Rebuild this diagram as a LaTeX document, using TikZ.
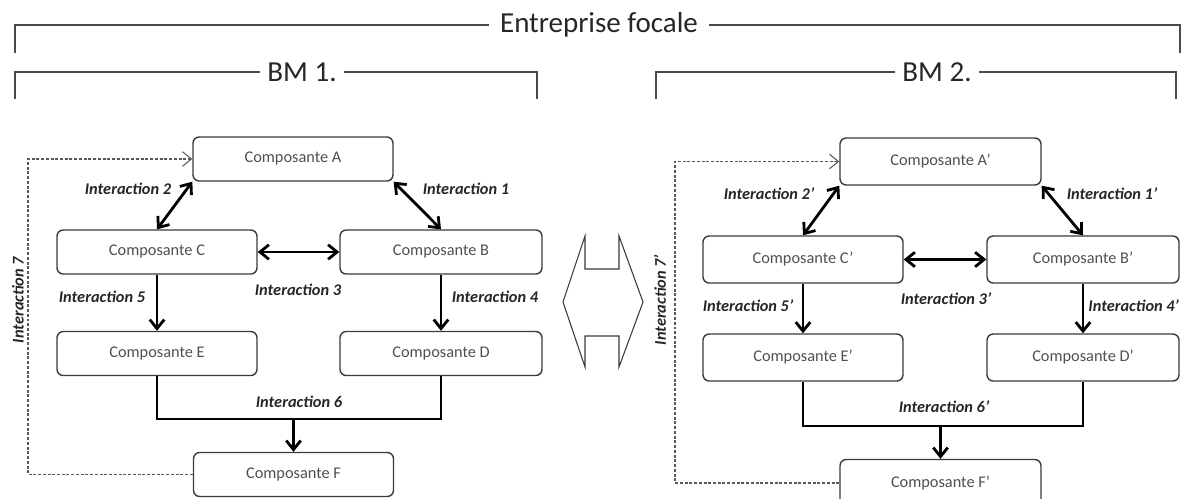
\documentclass[tikz,border=0pt]{standalone}
\usepackage{fontspec}
\setmainfont{Carlito}
\usetikzlibrary{arrows.meta}
\definecolor{bord}{HTML}{3A3A3A}
\definecolor{texte}{HTML}{505050}
\definecolor{trait}{HTML}{4A4A4A}
\newcommand{\pointe}{Straight Barb[length=1.8mm,width=2.9mm]}

\tikzset{
  comp/.style={draw=bord,line width=0.8pt,rounded corners=3.5pt,
               minimum width=4cm,minimum height=0.88cm,inner sep=0pt,
               text=texte,font=\fontsize{9.3}{11}\selectfont},
  compb/.style={comp,minimum height=0.94cm},
  inter/.style={font=\fontsize{9.3}{11}\selectfont\bfseries\itshape,text=black!85},
  titre/.style={font=\fontsize{16.5}{19}\selectfont,text=black!85,inner xsep=0.22cm},
  lien/.style={line width=1.6pt},
  bi/.style={lien,{\pointe}-{\pointe}},
  uni/.style={lien,-{\pointe}},
  retour/.style={draw=black!65,line width=0.6pt,dash pattern=on 1.7pt off 1pt,-{\pointe}},
  accolade/.style={draw=trait,line width=0.9pt}
}

\begin{document}
\begin{tikzpicture}[x={(0.02cm,0)},y={(0,-0.02cm)}]
   \useasboundingbox (0,0) rectangle (1182,498);
   \clip (0,0) rectangle (1182,498);

   % accolades du haut
   \node[titre] (ent) at (599,25) {Entreprise focale};
   \coordinate (entG) at (15,53);
   \coordinate (entD) at (1180,53);
   \draw[accolade] (ent.west) -| (entG);
   \draw[accolade] (ent.east) -| (entD);
   \node[titre,inner xsep=0.14cm] (bm1) at (302,72) {BM 1.};
   \coordinate (bm1G) at (15,99);
   \coordinate (bm1D) at (537,99);
   \draw[accolade] (bm1.west) -| (bm1G);
   \draw[accolade] (bm1.east) -| (bm1D);
   \node[titre,inner xsep=0.14cm] (bm2) at (937,72) {BM 2.};
   \coordinate (bm2G) at (656,99);
   \coordinate (bm2D) at (1176,99);
   \draw[accolade] (bm2.west) -| (bm2G);
   \draw[accolade] (bm2.east) -| (bm2D);

   % BM 1
   \node[comp] (A) at (293,159)   {Composante A};
   \node[comp] (C) at (157,252)   {Composante C};
   \node[comp,minimum width=4.04cm] (B) at (441,252) {Composante B};
   \node[comp] (E) at (157,353.5) {Composante E};
   \node[comp,minimum width=4.04cm] (D) at (441,353.5) {Composante D};
   \node[comp] (F) at (293.5,474.5) {Composante F};
   \draw[bi] (A.south west) -- (C.north);
   \draw[bi] (A.south east) -- (B.north);
   \draw[bi] (C.east) -- (B.west);
   \draw[uni] (C.south) -- (E.north);
   \draw[uni] (B.south) -- (D.north);
   \coordinate (bus1) at (0,419);
   \draw[lien] (E.south) |- (bus1 -| D.south) -- (D.south);
   \draw[uni] (F.north |- bus1) -- (F.north);
   \coordinate (coin1) at (28,0);
   \draw[retour] (F.west) -| (coin1 |- A.west) -- (A.west);
   \node[inter] (i2) at (128,189) {Interaction 2};
   \node[inter] (i1) at (466,189) {Interaction 1};
   \node[inter] (i3) at (298,290) {Interaction 3};
   \node[inter] (i5) at (102,297) {Interaction 5};
   \node[inter] (i4) at (495,297) {Interaction 4};
   \node[inter] (i6) at (299,402) {Interaction 6};
   \node[inter,rotate=90] (i7) at (18,300) {Interaction 7};

   % double fleche
   \draw[draw=bord,line width=0.6pt] (563,302) -- (585,236) -- (585,269) -- (619,269)
        -- (619,236) -- (643,302) -- (619,367) -- (619,336) -- (585,336) -- (585,367) -- cycle;

   % BM 2
   \node[compb,minimum width=4.02cm] (Ap) at (940.5,161.5) {Composante A'};
   \node[compb] (Cp) at (803,259.5)   {Composante C'};
   \node[compb,minimum width=3.84cm] (Bp) at (1083,259.5) {Composante B'};
   \node[compb] (Ep) at (803,357.5)   {Composante E'};
   \node[compb,minimum width=3.84cm] (Dp) at (1083,357.5) {Composante D'};
   \node[compb,minimum width=4.02cm] (Fp) at (940.5,483) {Composante F'};
   \draw[bi] (Ap.south west) -- (Cp.north);
   \draw[bi] (Ap.south east) -- (Bp.north);
   \draw[bi] (Cp.east) -- (Bp.west);
   \draw[uni] (Cp.south) -- (Ep.north);
   \draw[uni] (Bp.south) -- (Dp.north);
   \coordinate (bus2) at (0,426);
   \draw[lien] (Ep.south) |- (bus2 -| Dp.south) -- (Dp.south);
   \draw[uni] (Fp.north |- bus2) -- (Fp.north);
   \coordinate (coin2) at (675,0);
   \draw[retour] (Fp.west) -| (coin2 |- Ap.west) -- (Ap.west);
   \node[inter] (i2p) at (769,194)  {Interaction 2'};
   \node[inter] (i1p) at (1112,194) {Interaction 1'};
   \node[inter] (i3p) at (946,299)  {Interaction 3'};
   \node[inter] (i5p) at (748,306)  {Interaction 5'};
   \node[inter,anchor=east,inner xsep=1pt] (i4p) at (1181,306) {Interaction 4'};
   \node[inter] (i6p) at (944,407)  {Interaction 6'};
   \node[inter,rotate=90] (i7p) at (660,300) {Interaction 7'};
\end{tikzpicture}
\end{document}
